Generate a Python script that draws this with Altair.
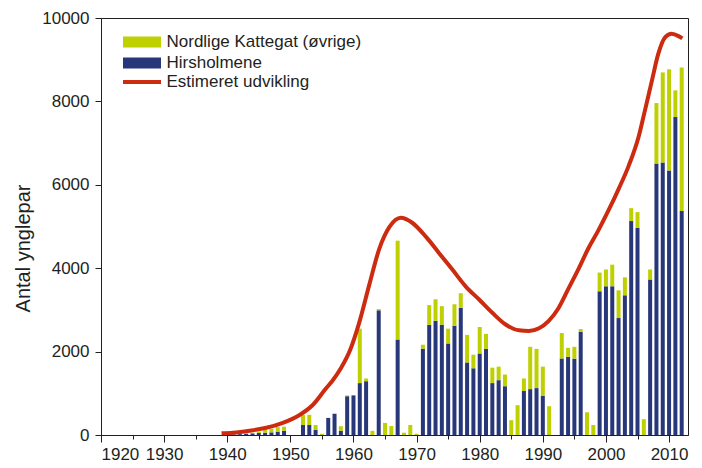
import altair as alt
import pandas as pd

# ---- data ----
years = list(range(1940, 2013))
hirsholmene = [
    10, 15, 20, 30, 40, 50, 55, 63, 80, 100,          # 1940-1949
    0, 0, 240, 240, 120, 0, 410, 510, 100, 930,       # 1950-1959
    950, 1245, 1290, 0, 2990, 0, 0, 2290, 0, 0,       # 1960-1969
    0, 2070, 2640, 2740, 2645, 2195, 2620, 3050, 1740, 1600,  # 1970-1979
    1955, 2065, 1245, 1315, 1170, 0, 0, 1055, 1100, 1125,     # 1980-1989
    935, 0, 0, 1835, 1875, 1830, 2470, 0, 0, 3445,            # 1990-1999
    3565, 3565, 2805, 3350, 5130, 4965, 0, 3730, 6510, 6535,  # 2000-2009
    6345, 7625, 5370,                                          # 2010-2012
]
nordlige = [
    0, 0, 0, 5, 15, 25, 64, 87, 110, 100,
    0, 0, 245, 245, 120, 30, 0, 0, 110, 20,
    0, 1305, 65, 100, 30, 290, 215, 2370, 55, 240,
    30, 95, 475, 515, 445, 355, 515, 350, 660, 325,
    635, 360, 370, 325, 280, 355, 715, 300, 1015, 940,
    705, 690, 0, 610, 215, 285, 70, 545, 240, 450,
    405, 520, 665, 430, 310, 380, 380, 240, 1450, 2160,
    2425, 640, 3445,
]
trend_years = [1939.1, 1940.9, 1943.5, 1946.2, 1948.8, 1951.4, 1953.5, 1955.6, 1956.7,
               1958.0, 1959.5, 1960.9, 1962.5, 1964.1, 1965.7, 1967.5, 1969.3, 1971.5,
               1973.6, 1975.7, 1977.8, 1979.9, 1982.0, 1984.1, 1986.2, 1987.8, 1989.4,
               1990.9, 1992.5, 1994.1, 1995.7, 1997.2, 1998.8, 2000.4, 2002.0, 2003.6,
               2005.2, 2006.2, 2007.3, 2008.3, 2009.4, 2010.4, 2011.5, 2012.1]
trend_values = [40, 55, 103, 174, 293, 475, 713, 1108, 1306,
                1600, 2050, 2690, 3600, 4470, 4990, 5210, 5090, 4750,
                4355, 3960, 3560, 3250, 2930, 2650, 2510, 2495, 2560,
                2731, 3047, 3522, 3997, 4472, 4908, 5384, 5897, 6453,
                7165, 7797, 8510, 9144, 9540, 9620, 9565, 9510]

series_names = ["Nordlige Kattegat (øvrige)", "Hirsholmene"]
series_colors = ["#bfd000", "#283779"]
trend_name = "Estimeret udvikling"
trend_color = "#cc2b10"
decades = list(range(1920, 2011, 10))
half_decades = list(range(1925, 2006, 10))
y_ticks = list(range(0, 10001, 2000))

# ---- tables ----
rows = []
for yr, b, g in zip(years, hirsholmene, nordlige):
    rows.append({"year": yr, "antal": b, "serie": series_names[1], "ord": 0})
    rows.append({"year": yr, "antal": g, "serie": series_names[0], "ord": 1})
bars_df = pd.DataFrame(rows)
trend_df = pd.DataFrame({"year": trend_years, "antal": trend_values, "serie": trend_name})

FONT = "Liberation Sans"
TXT = "#231f20"
xscale = alt.Scale(domain=[1920, 2013], nice=False, zero=False, padding=0)
yscale = alt.Scale(domain=[0, 10000], nice=False)
rect_path = "M-3.4545,-1L3.4545,-1L3.4545,1L-3.4545,1Z"
line_path = "M-3.4545,0L3.4545,0"

legend_common = dict(title=None, orient="none", legendX=22, symbolSize=121,
                     symbolOffset=10.5, labelOffset=16, labelFontSize=17,
                     labelFont=FONT, labelColor=TXT, labelLimit=0,
                     rowPadding=3, padding=0)

bars = alt.Chart(bars_df).mark_bar(size=4).encode(
    x=alt.X("year:Q", scale=xscale,
            axis=alt.Axis(values=decades, format="d", tickSize=7, title=None,
                          labelPadding=4, orient="bottom")),
    y=alt.Y("antal:Q", scale=yscale, stack="zero",
            axis=alt.Axis(values=y_ticks, format="d", tickSize=6, labelPadding=6,
                          title="Antal ynglepar", titleFontSize=20, titleFontWeight="normal",
                          titleX=-72, titleY=230, titleBaseline="alphabetic",
                          titleAngle=270, titleColor=TXT)),
    fill=alt.Fill("serie:N", scale=alt.Scale(domain=series_names, range=series_colors),
                  legend=alt.Legend(legendY=15.5, symbolType=rect_path,
                                    symbolStrokeWidth=0, symbolOpacity=1,
                                    **legend_common)),
    order=alt.Order("ord:Q"),
)

line = alt.Chart(trend_df).mark_line(strokeWidth=4, interpolate="monotone").encode(
    x=alt.X("year:Q", scale=xscale,
            axis=alt.Axis(values=half_decades, labels=False, tickSize=4, domain=False,
                          title=None, orient="bottom")),
    y=alt.Y("antal:Q", scale=yscale, title="Antal ynglepar"),
    stroke=alt.Stroke("serie:N", scale=alt.Scale(domain=[trend_name], range=[trend_color]),
                      legend=alt.Legend(legendY=55.5, symbolType=line_path,
                                        symbolStrokeWidth=4, **legend_common)),
)

chart = alt.layer(bars, line).resolve_axis(x="independent").resolve_scale(
    fill="independent", stroke="independent"
).properties(
    width=587, height=417,
    autosize=alt.AutoSizeParams(type="none"),
    padding={"left": 93, "top": 10, "right": 6, "bottom": 30},
).configure(font=FONT).configure_view(
    stroke=TXT, strokeWidth=1
).configure_axis(
    grid=False, labelFont=FONT, labelFontSize=17, labelColor=TXT,
    tickColor=TXT, domainColor=TXT, titleFont=FONT,
)

chart.save("out.html", embed_options={"renderer": "svg", "actions": False})
